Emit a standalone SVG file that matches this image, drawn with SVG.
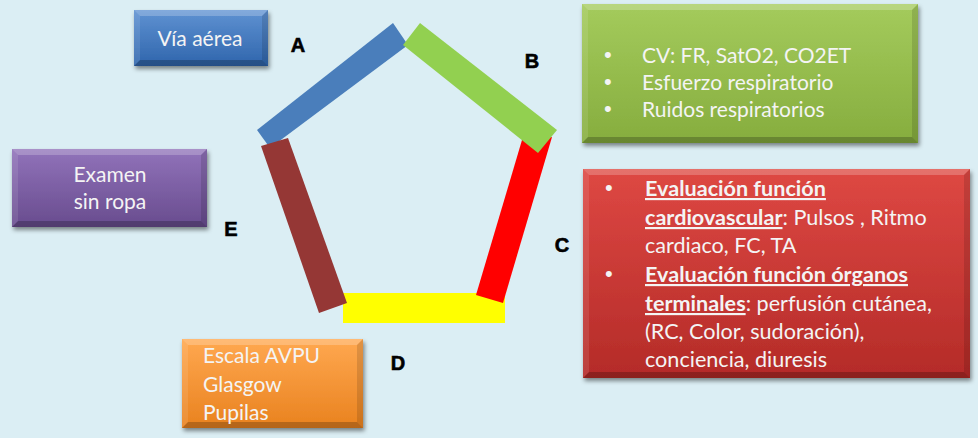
<svg xmlns="http://www.w3.org/2000/svg" width="978" height="438" viewBox="0 0 978 438">
<defs>
<linearGradient id="gBlue" x1="0" y1="0" x2="0" y2="1"><stop offset="0" stop-color="#5F92D2"/><stop offset="1" stop-color="#2F65AC"/></linearGradient>
<linearGradient id="gPurple" x1="0" y1="0" x2="0" y2="1"><stop offset="0" stop-color="#9173BA"/><stop offset="1" stop-color="#684C8E"/></linearGradient>
<linearGradient id="gGreen" x1="0" y1="0" x2="0" y2="1"><stop offset="0" stop-color="#A4CB5C"/><stop offset="1" stop-color="#86AD3E"/></linearGradient>
<linearGradient id="gRed" x1="0" y1="0" x2="0" y2="1"><stop offset="0" stop-color="#DE4843"/><stop offset="1" stop-color="#B42B28"/></linearGradient>
<linearGradient id="gOrange" x1="0" y1="0" x2="0" y2="1"><stop offset="0" stop-color="#FFA850"/><stop offset="1" stop-color="#E9821F"/></linearGradient>
<filter id="sh" x="-10%" y="-10%" width="125%" height="130%"><feDropShadow dx="1.5" dy="3" stdDeviation="2" flood-color="#000" flood-opacity="0.45"/></filter>
</defs>
<style>
.bg{fill:#DBEEF4}
.bt{fill:#fff;fill-opacity:0.22}
.bb{fill:#000;fill-opacity:0.22}
.bl{fill:#fff;fill-opacity:0.10}
.br{fill:#000;fill-opacity:0.12}
.t{font-family:Lato,"Liberation Sans",sans-serif;font-size:21px;fill:#F4F4F4}
.w{font-size:21.6px}
.d{font-family:"Liberation Sans",Arial,sans-serif;font-size:22px;fill:#F4F4F4}
.b{font-weight:bold;text-decoration:underline}
.lab{font-family:"Liberation Sans",Arial,sans-serif;font-size:20px;font-weight:bold;fill:#000;stroke:#000;stroke-width:0.6}
</style>
<rect class="bg" x="0" y="0" width="978" height="438"/>

<g id="pentagon">
<polygon fill="#FFFF00" points="343,293 505,293 505,323 343,323"/>
<polygon fill="#4A7EBB" points="257,130 393,23 408,45 270,148"/>
<polygon fill="#FF0000" points="522,140 552,137 503,303 476,295"/>
<polygon fill="#92D050" points="420,23 403,45 538,153 557,130"/>
<polygon fill="#953735" points="261,146 288,138 347,303 319,313"/>
</g>

<g id="labels">
<text class="lab" x="298" y="52" text-anchor="middle">A</text>
<text class="lab" x="532" y="68" text-anchor="middle">B</text>
<text class="lab" x="562" y="252" text-anchor="middle">C</text>
<text class="lab" x="398" y="370" text-anchor="middle">D</text>
<text class="lab" x="231" y="236" text-anchor="middle">E</text>
</g>

<g id="nodeA">
<g filter="url(#sh)"><rect x="134" y="10" width="134" height="56" fill="url(#gBlue)"/></g>
<polygon class="bt" points="134,10 268,10 262,16 140,16"/>
<polygon class="bb" points="134,66 268,66 262,60 140,60"/>
<polygon class="bl" points="134,10 140,16 140,60 134,66"/>
<polygon class="br" points="268,10 262,16 262,60 268,66"/>
<text class="t" x="200" y="46" text-anchor="middle">Vía aérea</text>
</g>

<g id="nodeE">
<g filter="url(#sh)"><rect x="12" y="149" width="195" height="78" fill="url(#gPurple)"/></g>
<polygon class="bt" points="12,149 207,149 201,155 18,155"/>
<polygon class="bb" points="12,227 207,227 201,221 18,221"/>
<polygon class="bl" points="12,149 18,155 18,221 12,227"/>
<polygon class="br" points="207,149 201,155 201,221 207,227"/>
<text class="t" x="110" y="182" text-anchor="middle">Examen</text>
<text class="t" x="110" y="209" text-anchor="middle">sin ropa</text>
</g>

<g id="nodeB">
<g filter="url(#sh)"><rect x="582" y="4" width="336" height="139" fill="url(#gGreen)"/></g>
<polygon class="bt" points="582,4 918,4 912,10 588,10"/>
<polygon class="bb" points="582,143 918,143 912,137 588,137"/>
<polygon class="bl" points="582,4 588,10 588,137 582,143"/>
<polygon class="br" points="918,4 912,10 912,137 918,143"/>
<text class="d" x="604" y="62">•</text>
<text class="t" x="642" y="63">CV: FR, SatO2, CO2ET</text>
<text class="d" x="604" y="89">•</text>
<text class="t" x="642" y="90">Esfuerzo respiratorio</text>
<text class="d" x="604" y="116">•</text>
<text class="t" x="642" y="117">Ruidos respiratorios</text>
</g>

<g id="nodeC">
<g filter="url(#sh)"><rect x="583" y="169" width="387" height="209" fill="url(#gRed)"/></g>
<polygon class="bt" points="583,169 970,169 964,175 589,175"/>
<polygon class="bb" points="583,378 970,378 964,372 589,372"/>
<polygon class="bl" points="583,169 589,175 589,372 583,378"/>
<polygon class="br" points="970,169 964,175 964,372 970,378"/>
<text class="d" x="605" y="195">•</text>
<text class="t w" x="645" y="196"><tspan class="b">Evaluación función</tspan></text>
<text class="t w" x="645" y="225"><tspan class="b">cardiovascular</tspan>: Pulsos , Ritmo</text>
<text class="t w" x="645" y="253">cardiaco, FC, TA</text>
<text class="d" x="605" y="281">•</text>
<text class="t w" x="645" y="282"><tspan class="b">Evaluación función órganos</tspan></text>
<text class="t w" x="645" y="311"><tspan class="b">terminales</tspan>: perfusión cutánea,</text>
<text class="t w" x="645" y="339">(RC, Color, sudoración),</text>
<text class="t w" x="645" y="367">conciencia, diuresis</text>
</g>

<g id="nodeD">
<g filter="url(#sh)"><rect x="182" y="339" width="181" height="89" fill="url(#gOrange)"/></g>
<polygon class="bt" points="182,339 363,339 357,345 188,345"/>
<polygon class="bb" points="182,428 363,428 357,422 188,422"/>
<polygon class="bl" points="182,339 188,345 188,422 182,428"/>
<polygon class="br" points="363,339 357,345 357,422 363,428"/>
<text class="t" x="203" y="363">Escala AVPU</text>
<text class="t" x="203" y="392">Glasgow</text>
<text class="t" x="203" y="420">Pupilas</text>
</g>

<g id="connectors"></g>
</svg>
